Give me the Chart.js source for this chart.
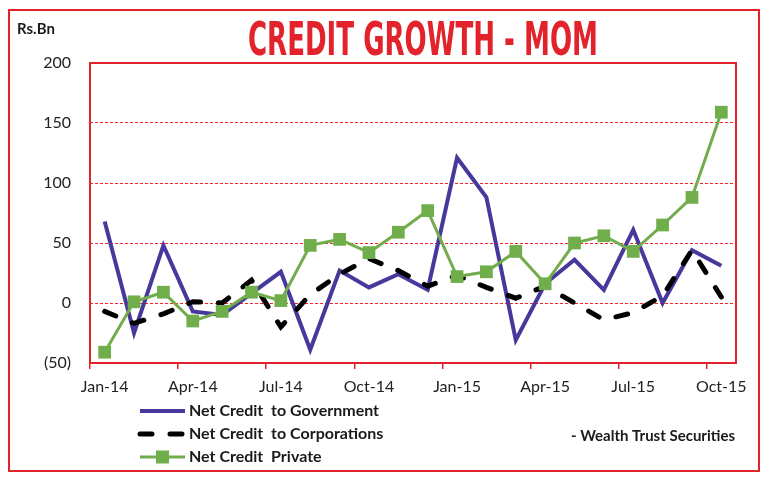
<!DOCTYPE html>
<html>
<head>
<meta charset="utf-8">
<title>Credit Growth - MOM</title>
<script src="https://cdn.jsdelivr.net/npm/chart.js@4.4.0/dist/chart.umd.min.js"></script>
<style>
  html, body { margin: 0; padding: 0; background: #fff; }
  #wrap { width: 770px; height: 482px; }
</style>
</head>
<body>
<div id="wrap"><canvas id="creditChart" width="770" height="482"></canvas></div>
<script>
const months = [
  'Jan-14', 'Feb-14', 'Mar-14', 'Apr-14', 'May-14', 'Jun-14',
  'Jul-14', 'Aug-14', 'Sep-14', 'Oct-14', 'Nov-14', 'Dec-14',
  'Jan-15', 'Feb-15', 'Mar-15', 'Apr-15', 'May-15', 'Jun-15',
  'Jul-15', 'Aug-15', 'Sep-15', 'Oct-15'
];
const govtCredit = [68, -25, 48, -7, -10, 8, 26, -39, 27, 13, 24, 11, 121, 88, -31, 16, 36, 11, 61, 0, 44, 31];
const corpCredit = [-7, -17, -9, 1, 0, 19, -20, 7, 24, 37, 27, 14, 23, 13, 4, 14, 0, -14, -8, 6, 44, 5];
const privateCredit = [-41, 1, 9, -15, -7, 9, 2, 48, 53, 42, 59, 77, 22, 26, 43, 16, 50, 56, 43, 65, 88, 159];
const yTicks = [-50, 0, 50, 100, 150, 200];

const RED = '#e3232b';
const FONT = 'Lato, "Liberation Sans", sans-serif';

// title, frames, unit label and source text
const pageDecor = {
  id: 'pageDecor',
  beforeDatasetsDraw(chart) {
    const { ctx, chartArea: a } = chart;
    ctx.save();
    ctx.strokeStyle = RED;
    ctx.lineWidth = 2;
    ctx.strokeRect(a.left, a.top, a.right - a.left, a.bottom - a.top);
    ctx.restore();
  },
  afterDraw(chart) {
    const { ctx } = chart;
    ctx.save();
    ctx.strokeStyle = RED;
    ctx.lineWidth = 2;
    ctx.strokeRect(9, 10, 750, 461);

    // condensed title, squeezed to the width of the original
    const title = 'CREDIT GROWTH - MOM';
    ctx.font = 'bold 47px "Liberation Sans Narrow", "DejaVu Sans Condensed", "Liberation Sans", sans-serif';
    const w = ctx.measureText(title).width;
    ctx.save();
    ctx.translate(423, 55);
    ctx.scale(350 / w, 1);
    ctx.fillStyle = RED;
    ctx.textAlign = 'center';
    ctx.textBaseline = 'alphabetic';
    ctx.fillText(title, 0, 0);
    ctx.restore();

    ctx.fillStyle = '#1a1a1a';
    ctx.textBaseline = 'middle';
    ctx.font = 'bold 15px ' + FONT;
    ctx.textAlign = 'left';
    ctx.fillText('Rs.Bn', 17, 29);

    ctx.font = 'bold 15px ' + FONT;
    ctx.textAlign = 'right';
    ctx.fillText('- Wealth Trust Securities', 735, 436);
    ctx.restore();
  }
};

// legend with line samples like the excel one
const lineLegend = {
  id: 'lineLegend',
  afterDraw(chart) {
    const { ctx } = chart;
    ctx.save();
    chart.data.datasets.forEach((ds, i) => {
      const y = 411 + i * 23;
      ctx.strokeStyle = ds.borderColor;
      ctx.lineWidth = ds.borderWidth;
      ctx.lineCap = ds.borderCapStyle || 'butt';
      ctx.setLineDash(ds.borderDash || []);
      ctx.beginPath();
      ctx.moveTo(140, y);
      ctx.lineTo(185, y);
      ctx.stroke();
      ctx.setLineDash([]);
      if (ds.pointRadius > 0) {
        ctx.fillStyle = ds.pointBackgroundColor;
        ctx.fillRect(156, y - 6.5, 13, 13);
      }
      ctx.fillStyle = '#1a1a1a';
      ctx.font = 'bold 16px ' + FONT;
      ctx.textAlign = 'left';
      ctx.textBaseline = 'middle';
      ctx.fillText(ds.label, 189, y);
    });
    ctx.restore();
  }
};

const ctx = document.getElementById('creditChart').getContext('2d');

new Chart(ctx, {
  type: 'line',
  data: {
    labels: months,
    datasets: [
      {
        label: 'Net Credit  to Government',
        data: govtCredit,
        borderColor: '#46399b',
        borderWidth: 4,
        pointRadius: 0,
        tension: 0,
        order: 2
      },
      {
        label: 'Net Credit  to Corporations',
        data: corpCredit,
        borderColor: '#000000',
        borderWidth: 5,
        borderDash: [12, 18],
        borderCapStyle: 'round',
        pointRadius: 0,
        tension: 0,
        order: 1
      },
      {
        label: 'Net Credit  Private',
        data: privateCredit,
        borderColor: '#71ad4c',
        borderWidth: 3,
        pointStyle: 'rect',
        pointRadius: 9,
        pointBorderWidth: 0,
        pointBackgroundColor: '#6fae4b',
        tension: 0,
        order: 0
      }
    ]
  },
  options: {
    responsive: false,
    animation: false,
    devicePixelRatio: 1,
    layout: {
      padding: { left: 30, right: 34, top: 63, bottom: 0 }
    },
    plugins: {
      legend: { display: false },
      title: { display: false },
      tooltip: { enabled: false }
    },
    scales: {
      x: {
        offset: true,
        grid: {
          offset: true,
          drawOnChartArea: false,
          drawTicks: true,
          tickLength: 6,
          lineWidth: 1.5,
          color: c => (c.index % 3 === 0 ? RED : 'rgba(0,0,0,0)')
        },
        border: { display: false },
        ticks: {
          autoSkip: false,
          maxRotation: 0,
          padding: 8,
          color: '#222',
          font: { family: FONT, size: 16 },
          callback: function (value, index) {
            return index % 3 === 0 ? this.getLabelForValue(value) : '';
          }
        },
        afterFit(scale) { scale.height = 119; }
      },
      y: {
        min: -50,
        max: 200,
        afterBuildTicks(scale) {
          scale.ticks = yTicks.map(v => ({ value: v }));
        },
        grid: { color: '#ff1f26', lineWidth: 1, drawTicks: false },
        border: { display: false, dash: [3, 2] },
        ticks: {
          padding: 19,
          color: '#222',
          font: { family: FONT, size: 16 },
          callback: v => (v < 0 ? '(' + Math.abs(v) + ')' : v)
        },
        afterFit(scale) { scale.width = 60; }
      }
    }
  },
  plugins: [pageDecor, lineLegend]
});
</script>
</body>
</html>
